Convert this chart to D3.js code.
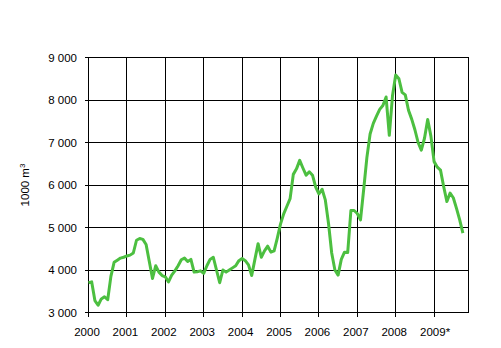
<!DOCTYPE html>
<html>
<head>
<meta charset="utf-8">
<script src="https://cdn.jsdelivr.net/npm/d3@7"></script>
<style>
  body { margin: 0; background: #fff; }
  text { font-family: "Liberation Sans", Arial, sans-serif; font-size: 11.5px; fill: #000; }
</style>
</head>
<body>
<figure id="chart" style="margin:0"></figure>
<script>
// monthly values, Jan 2000 .. Oct 2009 (1000 m3)
const values = [
  3700, 3720, 3280, 3170, 3320, 3370, 3300, 3850, 4180, 4230, 4280, 4300,
  4330, 4350, 4400, 4700, 4740, 4720, 4600, 4200, 3800, 4100, 3950, 3870,
  3840, 3720, 3880, 3980, 4100, 4240, 4280, 4200, 4250, 3950, 3960, 3980,
  3920, 4100, 4250, 4300, 4000, 3700, 4000, 3950, 4000, 4050, 4100, 4220,
  4270, 4220, 4120, 3870, 4250, 4620, 4300, 4450, 4560, 4420, 4450, 4750,
  5080, 5320, 5500, 5680, 6250, 6380, 6580, 6400, 6230, 6310, 6230, 5950,
  5790, 5900, 5650, 5100, 4400, 4000, 3880, 4250, 4420, 4410, 5400, 5400,
  5330, 5180, 5900, 6650, 7200, 7450, 7620, 7780, 7870, 8070, 7170, 8100,
  8590, 8500, 8180, 8120, 7760, 7550, 7300, 7000, 6820, 7100, 7540, 7150,
  6550, 6420, 6350, 5960, 5610, 5810, 5700, 5450, 5180, 4870
];
const yearLabels = ["2000", "2001", "2002", "2003", "2004", "2005", "2006", "2007", "2008", "2009*"];
const yTicks = [3000, 4000, 5000, 6000, 7000, 8000, 9000];

const width = 501, height = 348;
const plotLeft = 88.5, plotRight = 468.5, plotTop = 57.5, plotBottom = 312.5;

const svg = d3.select("#chart").append("svg")
  .attr("width", width)
  .attr("height", height);

const x = d3.scaleLinear().domain([0, 118.75]).range([plotLeft, plotRight]);
const y = d3.scaleLinear().domain([3000, 9000]).range([plotBottom, plotTop]);

const fmt = d => d3.format(",")(d).replace(",", " ");

const grid = svg.append("g").attr("stroke", "#000").attr("stroke-width", 1).attr("shape-rendering", "crispEdges");

// horizontal gridlines + left ticks
yTicks.forEach(t => {
  grid.append("line").attr("x1", plotLeft - 4).attr("x2", plotRight).attr("y1", y(t)).attr("y2", y(t));
});
// vertical gridlines + bottom ticks (one per year)
yearLabels.forEach((lab, i) => {
  grid.append("line").attr("x1", x(i * 12)).attr("x2", x(i * 12)).attr("y1", plotTop).attr("y2", plotBottom + 4);
});
// right border
grid.append("line").attr("x1", plotRight).attr("x2", plotRight).attr("y1", plotTop).attr("y2", plotBottom);

svg.append("g").selectAll("text")
  .data(yTicks)
  .enter()
  .append("text")
  .attr("x", 77)
  .attr("y", d => y(d) + 4)
  .attr("text-anchor", "end")
  .text(fmt);

svg.append("g").selectAll("text")
  .data(yearLabels)
  .enter()
  .append("text")
  .attr("x", (d, i) => x(i * 12) - 1.5 + (d.endsWith("*") ? 2.5 : 0))
  .attr("y", 336)
  .attr("text-anchor", "middle")
  .text(d => d);

const title = svg.append("text")
  .attr("transform", "translate(29,185) rotate(-90)")
  .attr("text-anchor", "middle");
title.append("tspan").text("1000 m");
title.append("tspan").attr("baseline-shift", "super").style("font-size", "8px").text("3");

const line = d3.line()
  .x((d, i) => x(i))
  .y(d => y(d));

svg.append("path")
  .datum(values)
  .attr("d", line)
  .attr("fill", "none")
  .attr("stroke", "#4cbf40")
  .attr("stroke-width", 3)
  .attr("stroke-linejoin", "round");
</script>
</body>
</html>
